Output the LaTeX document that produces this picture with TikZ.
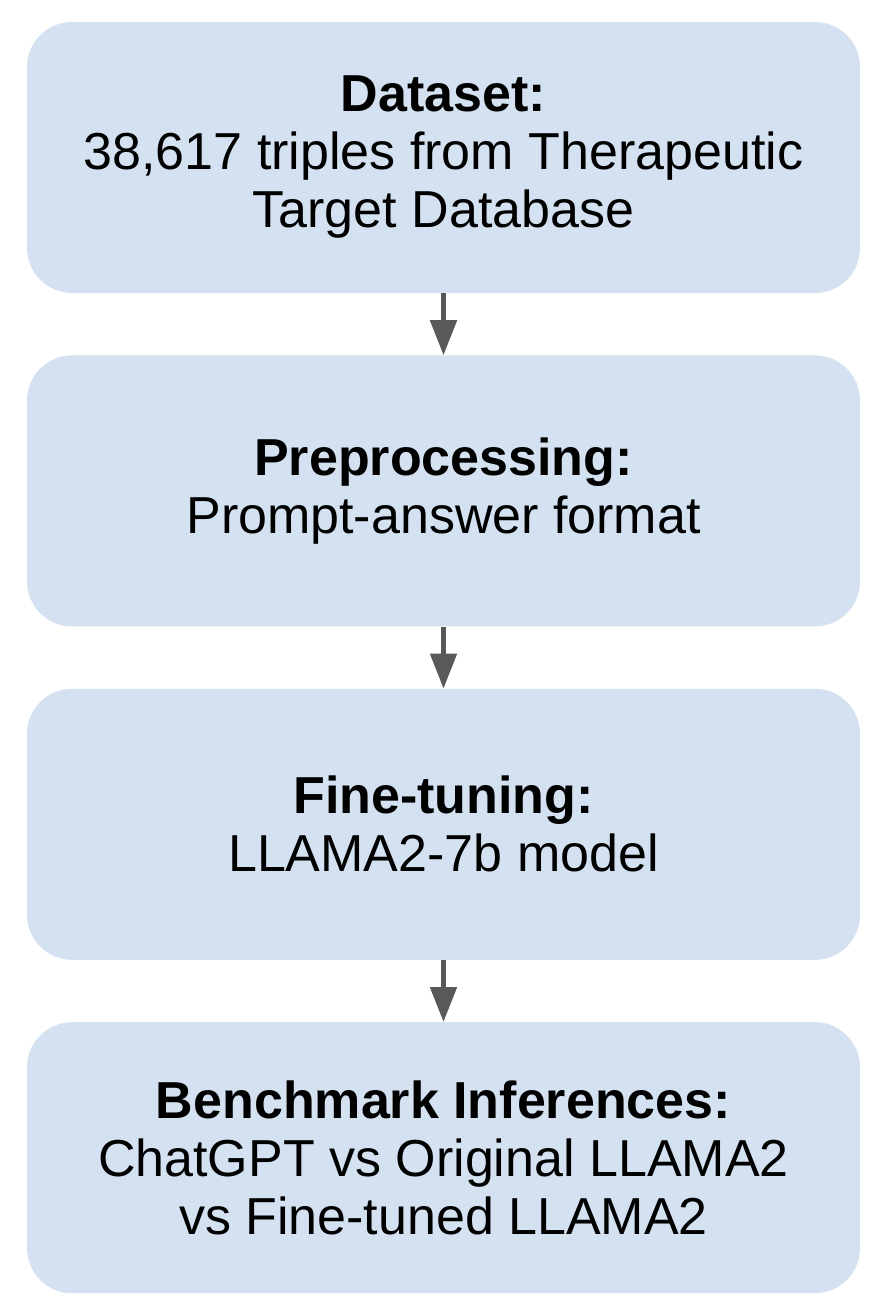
\documentclass[tikz,border=0pt]{standalone}
\usepackage{fontspec}
\setmainfont{Liberation Sans}
\usetikzlibrary{positioning,arrows.meta}

\definecolor{boxblue}{RGB}{211,225,240}
\definecolor{arrowgray}{RGB}{89,89,89}
\newcommand{\stagetitle}[1]{\textbf{#1}\\}

\begin{document}
\begin{tikzpicture}

\tikzstyle{stage}=[fill=boxblue,rounded corners=45pt,minimum width=833pt,
  minimum height=271pt,inner sep=0pt,align=center,
  font=\fontsize{52}{58}\selectfont]
\tikzstyle{flow}=[draw=arrowgray,line width=5pt,
  -{Triangle[length=35pt,width=26pt]}]

\useasboundingbox (0,0) rectangle (884pt,-1310pt);

\node[stage] (dataset) at (443.5pt,-157.5pt)
  {\stagetitle{Dataset:}38,617 triples from Therapeutic\\Target Database};
\node[stage,below=62pt of dataset] (preproc)
  {\stagetitle{Preprocessing:}Prompt-answer format};
\node[stage,below=62pt of preproc] (finetune)
  {\stagetitle{Fine-tuning:}LLAMA2-7b model};
\node[stage,below=62pt of finetune] (bench)
  {\stagetitle{Benchmark Inferences:}ChatGPT vs Original LLAMA2\\vs Fine-tuned LLAMA2};

\draw[flow] (dataset) -- (preproc);
\draw[flow] (preproc) -- (finetune);
\draw[flow] (finetune) -- (bench);

\end{tikzpicture}
\end{document}
